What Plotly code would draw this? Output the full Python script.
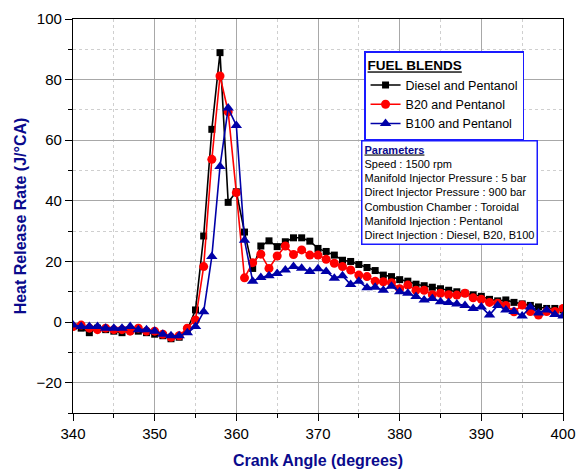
import plotly.graph_objects as go

crank_angle = list(range(340, 401))

diesel_pentanol = [-1.5, -2, -3.5, -2, -2.5, -3, -3.5, -2.5, -3, -3.5,
                   -4, -4.5, -5.5, -5, -2.5, 4, 28.4, 63.6, 88.9, 39.5,
                   43, 29.7, 17.7, 25.1, 26.8, 24.9, 26.5, 27.8, 27.8, 26.7,
                   24.3, 23.3, 22.1, 20.4, 20, 19, 18, 17, 15.5, 15,
                   14, 13.5, 12.5, 12, 11.5, 11, 10.5, 10, 9.5, 9,
                   8.5, 7.5, 7, 7.3, 6.5, 6, 5.5, 5, 4.5, 4.5, 4]

b20_pentanol = [-1.5, -1, -2, -2.5, -2, -2.5, -2.5, -3, -2, -3,
                -3, -4, -5, -4.5, -2, 0.7, 18.3, 53.7, 81.2, 69.4,
                42.7, 14.6, 19.6, 22.4, 17.7, 21.8, 25.1, 22.3, 23.8, 22.1,
                22.1, 20.7, 19.4, 18.3, 17.2, 15.5, 15, 13.5, 13.3, 13,
                11, 12.2, 10.5, 10.5, 9, 9.5, 9, 8.9, 9.5, 8,
                7.5, 6.5, 6.2, 5.5, 3.4, 5.6, 3.5, 2.3, 3.5, 3.5, 4.5]

b100_pentanol = [-1, -1.5, -1.5, -1.5, -2, -2, -2, -1.5, -2.5, -2.5,
                 -3, -4, -4.5, -4.5, -3.5, -1.5, 3.4, 21.6, 51.3, 70.6,
                 64.9, 27, 13.5, 14.7, 15.3, 16, 17.2, 18.3, 17.8, 16.7,
                 17.6, 16.7, 14.5, 15.3, 12.4, 13.5, 11.3, 11.5, 10.5, 11.8,
                 10, 9.5, 8.4, 7.3, 7.8, 6.7, 6.5, 6, 5.5, 4.5,
                 5, 2.3, 5.5, 4, 3.5, 2, 5, 3, 4, 2.5, 2]

series_names = ["Diesel and Pentanol", "B20 and Pentanol", "B100 and Pentanol"]
x_ticks = [340, 350, 360, 370, 380, 390, 400]
y_ticks = [-20, 0, 20, 40, 60, 80, 100]

param_lines = ["Speed : 1500 rpm",
               "Manifold Injector Pressure : 5 bar",
               "Direct Injector Pressure : 900 bar",
               "Combustion Chamber : Toroidal",
               "Manifold Injection : Pentanol",
               "Direct Injection : Diesel, B20, B100"]

NAVY = "#0A0A8C"
BLUE = "#0000A8"
FONT = "Liberation Sans, Arial, sans-serif"

fig = go.Figure()
styles = [("black", "square", 7), ("#FF0000", "circle", 9), (BLUE, "triangle-up", 10)]
for name, ys, (col, sym, sz) in zip(series_names,
                                    [diesel_pentanol, b20_pentanol, b100_pentanol],
                                    styles):
    fig.add_trace(go.Scatter(x=crank_angle, y=ys, name=name, mode="lines+markers",
                             line=dict(color=col, width=1.6),
                             marker=dict(symbol=sym, size=sz, color=col)))

axis_common = dict(showline=True, linecolor="black", linewidth=1.3, mirror=True,
                   ticks="outside", ticklen=7, tickwidth=1.2, tickcolor="black",
                   showgrid=True, gridcolor="#A8A8A8", gridwidth=1,
                   zeroline=False, automargin=False,
                   tickfont=dict(family=FONT, size=15, color="black"))

fig.update_xaxes(range=[340, 400], tickvals=x_ticks,
                 title=dict(text="<b>Crank Angle (degrees)</b>",
                            font=dict(family=FONT, size=16, color=NAVY), standoff=13),
                 minor=dict(dtick=5, tick0=340, ticks="outside", ticklen=4,
                            tickcolor="black", showgrid=True, gridcolor="#CFCFCF",
                            griddash="dot", gridwidth=1),
                 **axis_common)
fig.update_yaxes(range=[-30, 100], tickvals=y_ticks,
                 title=dict(text="<b>Heat Release Rate (J/°CA)</b>",
                            font=dict(family=FONT, size=16, color=NAVY), standoff=5),
                 minor=dict(dtick=10, tick0=0, ticks="outside", ticklen=4,
                            tickcolor="black", showgrid=True, gridcolor="#CFCFCF",
                            griddash="dot", gridwidth=1),
                 **axis_common)

fig.add_annotation(
    xref="paper", yref="paper", x=0.588, y=0.694, xanchor="left", yanchor="top",
    align="left", showarrow=False,
    text="<b><u><span style='color:%s'>Parameters</span></u></b>" % NAVY
         + "<br>" + "<br>".join(param_lines),
    font=dict(family=FONT, size=11, color="black"),
    bgcolor="white", bordercolor="#1A1AFF", borderwidth=1.5, borderpad=2)

fig.update_layout(
    width=576, height=469,
    margin=dict(l=73, r=13, t=19, b=56),
    paper_bgcolor="white", plot_bgcolor="white",
    font=dict(family=FONT),
    showlegend=True,
    legend=dict(x=0.594, y=0.918, xanchor="left", yanchor="top",
                bgcolor="white", bordercolor="#1A1AFF", borderwidth=1.5,
                title=dict(text="<b><u>FUEL BLENDS</u></b>",
                           font=dict(family=FONT, size=13.5, color="black"), side="top"),
                font=dict(family=FONT, size=12.5, color="black"),
                tracegroupgap=0, itemwidth=30),
)

fig.write_html("out.html")
